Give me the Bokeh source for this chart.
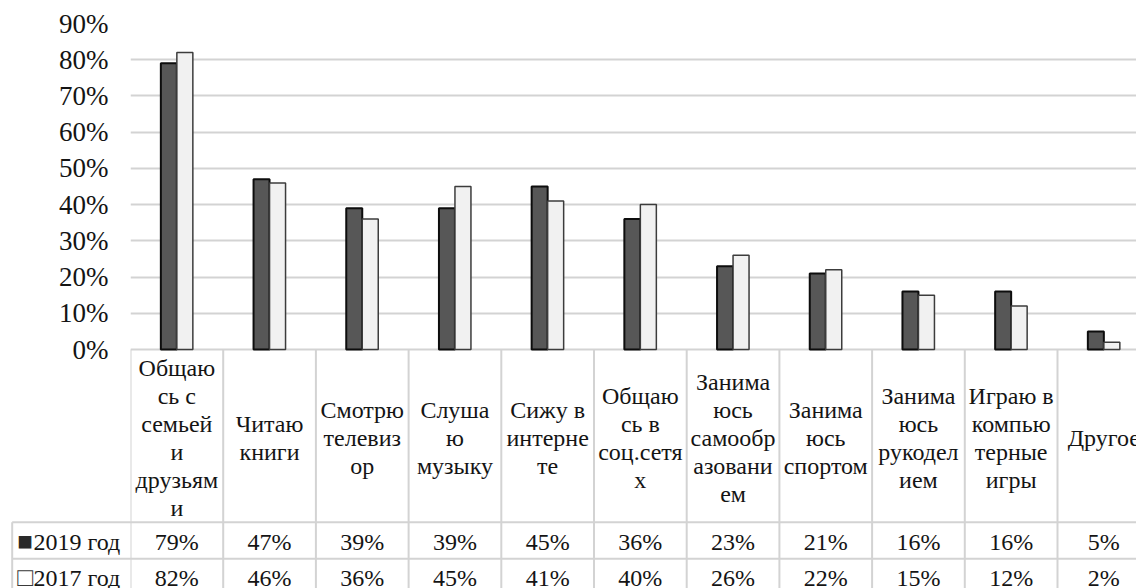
from bokeh.plotting import figure
from bokeh.models import Range1d, FixedTicker, PrintfTickFormatter, ColumnDataSource
from bokeh.core.properties import value
from bokeh.embed import file_html
from bokeh.resources import INLINE

categories = [
    "Общаю\nсь с\nсемьей\nи\nдрузьям\nи",
    "Читаю\nкниги",
    "Смотрю\nтелевиз\nор",
    "Слуша\nю\nмузыку",
    "Сижу в\nинтерне\nте",
    "Общаю\nсь в\nсоц.сетя\nх",
    "Занима\nюсь\nсамообр\nазовани\nем",
    "Занима\nюсь\nспортом",
    "Занима\nюсь\nрукодел\nием",
    "Играю в\nкомпью\nтерные\nигры",
    "Другое",
]
series_names = ["2019 год", "2017 год"]
series_keys = ["■", "□"]
values_2019 = [79, 47, 39, 39, 45, 36, 23, 21, 16, 16, 5]
values_2017 = [82, 46, 36, 45, 41, 40, 26, 22, 15, 12, 2]
y_ticks = [0, 10, 20, 30, 40, 50, 60, 70, 80, 90]

FONT_NAME = "serif"
FONT = value(FONT_NAME)
TXT = "#141414"
GRID = "#d3d3d3"
DARK_FILL, DARK_LINE = "#575757", "#0d0d0d"
LIGHT_FILL, LIGHT_LINE = "#f1f1f1", "#3c3c3c"

W, H = 1136, 588
n = len(categories)
colw = 92.7
frame_left = 130
frame_top = 23
zero_px = 349
px_per = (zero_px - frame_top) / 90.0
x_end = (W - frame_left) / colw
y_start = -(H - zero_px) / px_per
bar_w = 16 / colw


def px2x(px):
    return (px - frame_left) / colw


def py2y(py):
    return (zero_px - py) / px_per


p = figure(width=W, height=H, x_range=Range1d(0, x_end),
           y_range=Range1d(y_start, 90), output_backend="svg",
           toolbar_location=None, x_axis_location=None,
           min_border_left=frame_left, min_border_right=0,
           min_border_top=frame_top, min_border_bottom=0)
p.outline_line_color = None
p.xgrid.visible = False
p.ygrid.ticker = FixedTicker(ticks=y_ticks)
p.ygrid.grid_line_color = GRID
p.ygrid.grid_line_width = 2
ax = p.yaxis[0]
ax.ticker = FixedTicker(ticks=y_ticks)
ax.formatter = PrintfTickFormatter(format="%d%%")
ax.axis_line_color = None
ax.major_tick_line_color = None
ax.minor_tick_line_color = None
ax.major_tick_out = 0
ax.major_tick_in = 0
ax.major_label_standoff = 22
ax.major_label_text_font = FONT_NAME
ax.major_label_text_font_size = "27px"
ax.major_label_text_color = TXT

idx = list(range(n))
centers = [i + 0.5 for i in idx]
src = ColumnDataSource(dict(
    x19=[c - bar_w / 2 for c in centers],
    x17=[c + bar_w / 2 for c in centers],
    v19=values_2019, v17=values_2017))
p.vbar(x="x19", top="v19", bottom=0, width=bar_w, source=src,
       fill_color=DARK_FILL, line_color=DARK_LINE, line_width=2)
p.vbar(x="x17", top="v17", bottom=0, width=bar_w, source=src,
       fill_color=LIGHT_FILL, line_color=LIGHT_LINE, line_width=1.5)

# ---- data table under the chart ----
bounds = list(range(n + 1))
y_bot = py2y(600)
row1_top, row2_top = 521.7, 558.3
left_x = px2x(11.7)
p.segment(x0=bounds, y0=[0] * len(bounds), x1=bounds, y1=[y_bot] * len(bounds),
          line_color=GRID, line_width=2)
p.segment(x0=[left_x, left_x], y0=[py2y(row1_top), py2y(row2_top)],
          x1=[x_end + 1, x_end + 1], y1=[py2y(row1_top), py2y(row2_top)],
          line_color=GRID, line_width=2, level="overlay")
p.segment(x0=[left_x], y0=[py2y(row1_top)], x1=[left_x], y1=[y_bot],
          line_color=GRID, line_width=2, level="overlay")

p.text(x=centers, y=[py2y(437.5)] * n, text=categories, text_font=FONT,
       text_font_size="24px", text_align="center", text_baseline="middle",
       text_line_height=1.07, text_color=TXT)

r1y = py2y((row1_top + row2_top) / 2 + 1)
r2y = py2y(row2_top + 19)
p.text(x=centers, y=[r1y] * n, text=[f"{v}%" for v in values_2019], text_font=FONT,
       text_font_size="24px", text_align="center", text_baseline="middle", text_color=TXT)
p.text(x=centers, y=[r2y] * n, text=[f"{v}%" for v in values_2017], text_font=FONT,
       text_font_size="24px", text_align="center", text_baseline="middle", text_color=TXT)

p.text(x=[px2x(24.5), px2x(24.5)], y=[r1y, r2y], text=series_keys, text_font=FONT,
       text_font_size="26px", text_align="center", text_baseline="middle",
       text_color=["#2a2a2a", "#3a3a3a"], level="overlay")
p.text(x=[px2x(33), px2x(33)], y=[r1y, r2y], text=series_names, text_font=FONT,
       text_font_size="24px", text_align="left", text_baseline="middle",
       text_color=TXT, level="overlay")

open("out.html", "w").write(file_html(p, INLINE))
